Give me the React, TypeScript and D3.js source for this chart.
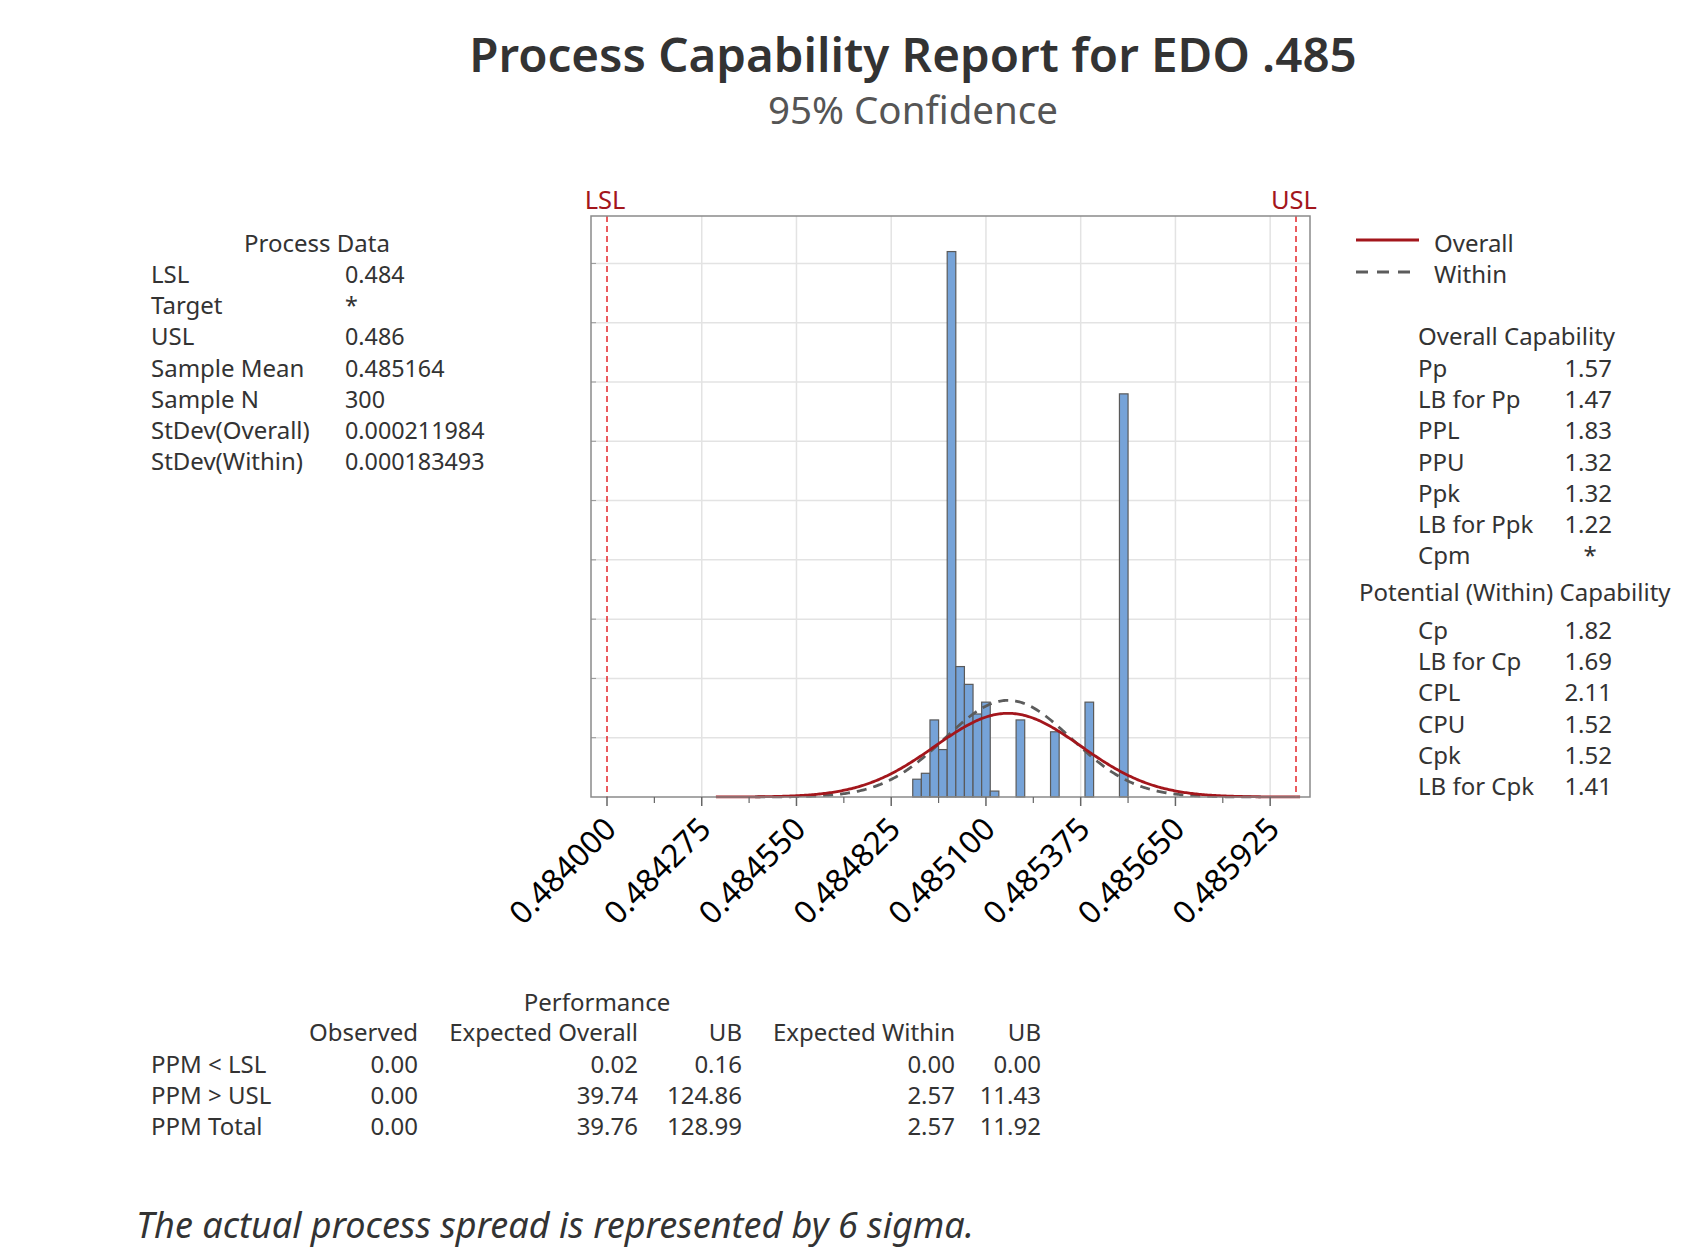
import React from 'react';
import * as d3 from 'd3';

const W = 1708;
const H = 1252;
const FONT = "'Noto Sans', 'DejaVu Sans', sans-serif";

// process statistics
const lsl = 0.484;
const usl = 0.486;
const sampleMean = 0.485164;
const sampleN = 300;
const sdOverall = 0.000211984;
const sdWithin = 0.000183493;
const binWidth = 0.000025;

// histogram bins (centre, count)
const binCenters = [0.4849, 0.484925, 0.48495, 0.484975, 0.485, 0.485025, 0.48505, 0.485075, 0.4851, 0.485125, 0.4852, 0.4853, 0.4854, 0.4855];
const binCounts = [3, 4, 13, 8, 92, 22, 19, 14, 16, 1, 13, 11, 16, 68];

const tickValues = [0.484, 0.484275, 0.48455, 0.484825, 0.4851, 0.485375, 0.48565, 0.485925];
const tickLabels = ['0.484000', '0.484275', '0.484550', '0.484825', '0.485100', '0.485375', '0.485650', '0.485925'];
const gridCounts = [10, 20, 30, 40, 50, 60, 70, 80, 90];

const processLabels = ['LSL', 'Target', 'USL', 'Sample Mean', 'Sample N', 'StDev(Overall)', 'StDev(Within)'];
const processValues = ['0.484', '*', '0.486', '0.485164', '300', '0.000211984', '0.000183493'];

const overallLabels = ['Pp', 'LB for Pp', 'PPL', 'PPU', 'Ppk', 'LB for Ppk', 'Cpm'];
const overallValues = ['1.57', '1.47', '1.83', '1.32', '1.32', '1.22', '*'];
const withinLabels = ['Cp', 'LB for Cp', 'CPL', 'CPU', 'Cpk', 'LB for Cpk'];
const withinValues = ['1.82', '1.69', '2.11', '1.52', '1.52', '1.41'];

const perfHeaders = ['Observed', 'Expected Overall', 'UB', 'Expected Within', 'UB'];
const perfRowLabels = ['PPM < LSL', 'PPM > USL', 'PPM Total'];
const perfObserved = ['0.00', '0.00', '0.00'];
const perfExpOverall = ['0.02', '39.74', '39.76'];
const perfExpOverallUB = ['0.16', '124.86', '128.99'];
const perfExpWithin = ['0.00', '2.57', '2.57'];
const perfExpWithinUB = ['0.00', '11.43', '11.92'];

const frame = { left: 591, right: 1310, top: 216, bottom: 797 };

export default function App() {
  const x = d3.scaleLinear().domain([lsl, usl]).range([607, 1296]);
  const y = d3.scaleLinear().domain([0, 98]).range([frame.bottom, frame.top]);

  const curve = (sd: number) => {
    const pts = d3.range(0, 401).map((i) => {
      const v = sampleMean - 4 * sd + (8 * sd * i) / 400;
      const z = (v - sampleMean) / sd;
      const dens = Math.exp(-0.5 * z * z) / (sd * Math.sqrt(2 * Math.PI));
      return [v, sampleN * binWidth * dens] as [number, number];
    });
    return d3.line<[number, number]>().x((d) => x(d[0])).y((d) => y(d[1]))(pts) || '';
  };

  const minorTicks = d3.range(tickValues.length - 1).map((i) => (tickValues[i] + tickValues[i + 1]) / 2);
  const red = '#a3161c';

  const perfCols = [
    { x: 418, vals: perfObserved },
    { x: 638, vals: perfExpOverall },
    { x: 742, vals: perfExpOverallUB },
    { x: 955, vals: perfExpWithin },
    { x: 1041, vals: perfExpWithinUB },
  ];

  return (
    <svg width={W} height={H} style={{ position: 'absolute', left: 0, top: 0, background: '#fff' }} fontFamily={FONT}>
      <rect width={W} height={H} fill="#fff" />

      {/* titles */}
      <text x={913} y={72} textAnchor="middle" fontSize={47.5} fontWeight={600} fill="#333">Process Capability Report for EDO .485</text>
      <text x={913} y={124} textAnchor="middle" fontSize={38.5} fill="#555">95% Confidence</text>

      {/* grid */}
      {gridCounts.map((c) => (
        <line key={'gy' + c} x1={frame.left} x2={frame.right} y1={y(c)} y2={y(c)} stroke="#e3e3e3" strokeWidth={1.5} />
      ))}
      {tickValues.slice(1).map((t) => (
        <line key={'gx' + t} x1={x(t)} x2={x(t)} y1={frame.top} y2={frame.bottom} stroke="#e3e3e3" strokeWidth={1.5} />
      ))}
      {gridCounts.map((c) => (
        <line key={'yt' + c} x1={frame.left} x2={frame.left + 5} y1={y(c)} y2={y(c)} stroke="#999" strokeWidth={1} />
      ))}

      {/* bars */}
      {binCenters.map((c, i) => (
        <rect key={'b' + i} x={x(c - binWidth / 2)} y={y(binCounts[i])} width={x(c + binWidth / 2) - x(c - binWidth / 2)}
          height={y(0) - y(binCounts[i])} fill="#76a3d8" stroke="#5a5a5a" strokeWidth={1.2} />
      ))}

      {/* fitted curves */}
      <path d={curve(sdWithin)} fill="none" stroke="#5c5c5c" strokeWidth={2.8} strokeDasharray="10 7" />
      <path d={curve(sdOverall)} fill="none" stroke={red} strokeWidth={2.8} />

      {/* spec limits */}
      {[lsl, usl].map((s) => (
        <line key={'s' + s} x1={x(s)} x2={x(s)} y1={frame.top} y2={frame.bottom} stroke="#e3262a" strokeWidth={1.5} strokeDasharray="6 4" />
      ))}
      <text x={x(lsl) - 2} y={209} textAnchor="middle" fontSize={25.5} fill={red}>LSL</text>
      <text x={x(usl) - 2} y={209} textAnchor="middle" fontSize={25.5} fill={red}>USL</text>

      {/* frame */}
      <rect x={frame.left} y={frame.top} width={frame.right - frame.left} height={frame.bottom - frame.top} fill="none" stroke="#8a8a8a" strokeWidth={1.5} />

      {/* x axis */}
      {tickValues.map((t) => (
        <line key={'t' + t} x1={x(t)} x2={x(t)} y1={frame.bottom} y2={frame.bottom + 9} stroke="#666" strokeWidth={1.5} />
      ))}
      {minorTicks.map((t) => (
        <line key={'m' + t} x1={x(t)} x2={x(t)} y1={frame.bottom} y2={frame.bottom + 6} stroke="#666" strokeWidth={1.2} />
      ))}
      {tickValues.map((t, i) => (
        <text key={'l' + t} transform={`translate(${x(t) + 11},${frame.bottom + 34}) rotate(-45)`} textAnchor="end" fontSize={31.5} fill="#000">{tickLabels[i]}</text>
      ))}

      {/* legend */}
      <line x1={1356} x2={1419} y1={240} y2={240} stroke={red} strokeWidth={2.8} />
      <line x1={1356} x2={1419} y1={272} y2={272} stroke="#5c5c5c" strokeWidth={2.8} strokeDasharray="12 9" />
      <text x={1434} y={252} fontSize={24} fill="#333">Overall</text>
      <text x={1434} y={283} fontSize={24} fill="#333">Within</text>

      {/* process data */}
      <text x={317} y={252} textAnchor="middle" fontSize={24} fill="#333">Process Data</text>
      {processLabels.map((l, i) => (
        <g key={'pd' + i}>
          <text x={151} y={283 + i * 31.2} fontSize={24} fill="#333">{l}</text>
          <text x={345} y={283 + i * 31.2} fontSize={23.3} fill="#333">{processValues[i]}</text>
        </g>
      ))}

      {/* overall capability */}
      <text x={1418} y={345} fontSize={24} fill="#333">Overall Capability</text>
      {overallLabels.map((l, i) => (
        <g key={'oc' + i}>
          <text x={1418} y={377 + i * 31.2} fontSize={24} fill="#333">{l}</text>
          <text x={overallValues[i] === '*' ? 1590 : 1612} y={377 + i * 31.2} textAnchor={overallValues[i] === '*' ? 'middle' : 'end'} fontSize={24} fill="#333">{overallValues[i]}</text>
        </g>
      ))}
      <text x={1359} y={601} fontSize={24} fill="#333">Potential (Within) Capability</text>
      {withinLabels.map((l, i) => (
        <g key={'wc' + i}>
          <text x={1418} y={639 + i * 31.2} fontSize={24} fill="#333">{l}</text>
          <text x={1612} y={639 + i * 31.2} textAnchor="end" fontSize={24} fill="#333">{withinValues[i]}</text>
        </g>
      ))}

      {/* performance */}
      <text x={597} y={1011} textAnchor="middle" fontSize={24} fill="#333">Performance</text>
      {perfHeaders.map((h, i) => (
        <text key={'ph' + i} x={perfCols[i].x} y={1041} textAnchor="end" fontSize={24} fill="#333">{h}</text>
      ))}
      {perfRowLabels.map((l, r) => (
        <g key={'pr' + r}>
          <text x={151} y={1073 + r * 31} fontSize={24} fill="#333">{l}</text>
          {perfCols.map((c, j) => (
            <text key={j} x={c.x} y={1073 + r * 31} textAnchor="end" fontSize={24} fill="#333">{c.vals[r]}</text>
          ))}
        </g>
      ))}

      <text x={136} y={1238} fontSize={36} fontStyle="italic" fill="#333">The actual process spread is represented by 6 sigma.</text>
    </svg>
  );
}
